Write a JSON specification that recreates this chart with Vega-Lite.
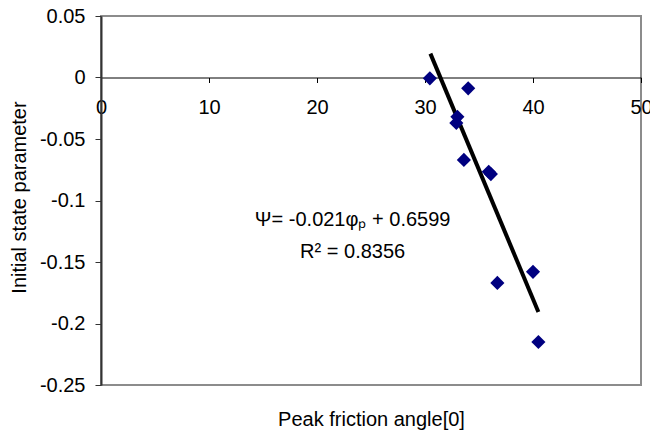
{
  "$schema": "https://vega.github.io/schema/vega-lite/v6.json",
  "width": 540,
  "height": 369,
  "autosize": {"type": "none"},
  "padding": {"left": 101, "top": 16, "right": 9, "bottom": 46},
  "background": "white",
  "config": {
    "view": {"stroke": "#8c8c8c", "strokeWidth": 2},
    "font": "Liberation Sans",
    "axis": {"grid": false, "labelFont": "Liberation Sans", "titleFont": "Liberation Sans", "labelColor": "#000", "titleColor": "#000", "titleFontWeight": "normal"}
  },
  "datasets": {
    "pts": [
      {"phi": 30.45, "psi": -0.0007},
      {"phi": 34.0, "psi": -0.0088},
      {"phi": 33.0, "psi": -0.032},
      {"phi": 32.9, "psi": -0.037},
      {"phi": 33.6, "psi": -0.067},
      {"phi": 35.9, "psi": -0.0766},
      {"phi": 36.1, "psi": -0.0785},
      {"phi": 36.7, "psi": -0.167},
      {"phi": 40.0, "psi": -0.158},
      {"phi": 40.5, "psi": -0.215}
    ],
    "fit": [
      {"phi": 30.5, "psi": 0.0194},
      {"phi": 40.5, "psi": -0.1906}
    ],
    "labels": [
      {"phi": 23.3, "psi": -0.1159, "t": "Ψ= -0.021φₚ + 0.6599"},
      {"phi": 23.3, "psi": -0.1419, "t": "R² = 0.8356"}
    ]
  },
  "layer": [
    {
      "data": {"name": "fit"},
      "mark": {"type": "line", "color": "#000", "strokeWidth": 4, "strokeCap": "butt"},
      "encoding": {
        "x": {
          "field": "phi", "type": "quantitative",
          "scale": {"domain": [0, 50], "nice": false, "zero": false},
          "axis": {
            "values": [0, 10, 20, 30, 40, 50],
            "offset": -307.5,
            "domainColor": "#000", "domainWidth": 1,
            "tickColor": "#000", "tickSize": 5, "tickWidth": 1,
            "labelFontSize": 20, "labelPadding": 15,
            "labelFlush": false,
            "title": "Peak friction angle[0]",
            "titleFontSize": 20,
            "titleY": 348, "titleBaseline": "alphabetic"
          }
        },
        "y": {
          "field": "psi", "type": "quantitative",
          "scale": {"domain": [-0.25, 0.05], "nice": false, "zero": false},
          "axis": {
            "values": [-0.25, -0.2, -0.15, -0.1, -0.05, 0, 0.05],
            "labelExpr": "'' + datum.value",
            "domainColor": "#333", "domainWidth": 2,
            "tickColor": "#333", "tickSize": 6, "tickWidth": 1,
            "labelFontSize": 20, "labelPadding": 10,
            "labelFlush": false,
            "title": "Initial state parameter",
            "titleFontSize": 20,
            "titleX": -82, "titleY": 181, "titleBaseline": "middle", "titleAngle": -90
          }
        }
      }
    },
    {
      "data": {"name": "pts"},
      "mark": {"type": "point", "shape": "diamond", "filled": true, "color": "#000080", "opacity": 1, "size": 200},
      "encoding": {
        "x": {"field": "phi", "type": "quantitative"},
        "y": {"field": "psi", "type": "quantitative"}
      }
    },
    {
      "data": {"name": "labels"},
      "mark": {"type": "text", "fontSize": 20, "font": "Liberation Sans", "color": "#000", "align": "center", "baseline": "middle"},
      "encoding": {
        "x": {"field": "phi", "type": "quantitative"},
        "y": {"field": "psi", "type": "quantitative"},
        "text": {"field": "t"}
      }
    }
  ]
}
